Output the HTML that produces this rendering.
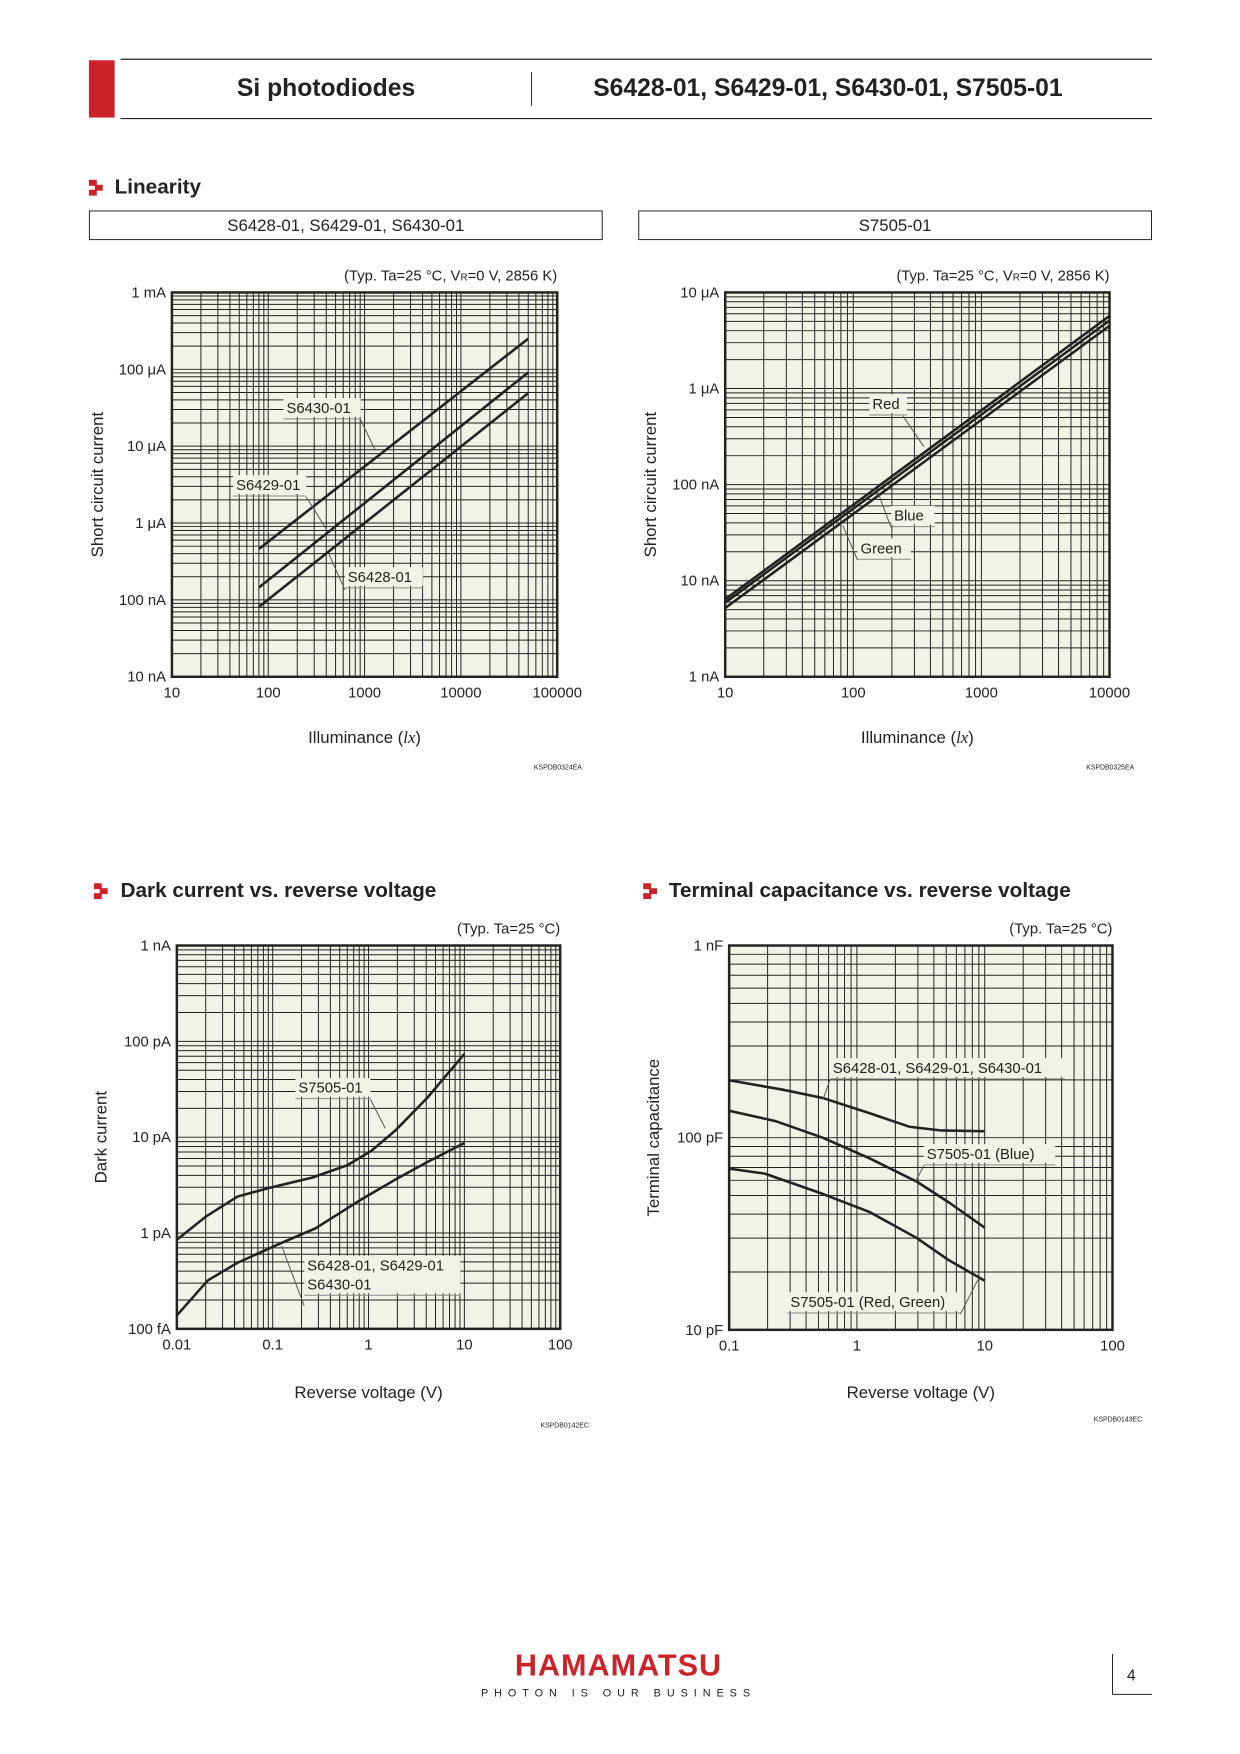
<!DOCTYPE html>
<html><head><meta charset="utf-8"><style>
html,body{margin:0;padding:0;background:#fff}
svg{display:block;font-family:"Liberation Sans",sans-serif}
</style></head><body>
<svg width="1240" height="1754" viewBox="0 0 1240 1754" xmlns="http://www.w3.org/2000/svg">
<g id="page" transform="scale(0.988)">
<g>
<rect x="90" y="61" width="26" height="58" fill="#cc2229"/>
<line x1="122" y1="60" x2="1166" y2="60" stroke="#222" stroke-width="1.2"/>
<line x1="122" y1="120" x2="1166" y2="120" stroke="#222" stroke-width="1.2"/>
<line x1="538" y1="73" x2="538" y2="107" stroke="#222" stroke-width="1"/>
<text x="330" y="97" font-size="25" font-weight="bold" text-anchor="middle" fill="#222">Si photodiodes</text>
<text x="838" y="97" font-size="25" font-weight="bold" text-anchor="middle" fill="#222">S6428-01, S6429-01, S6430-01, S7505-01</text>
</g>
<g>
<rect x="90" y="182" width="8" height="6" fill="#cc2229"/><rect x="96" y="187" width="8" height="6" fill="#cc2229"/><rect x="90" y="192" width="8" height="6" fill="#cc2229"/>
<text x="116" y="196" font-size="21" font-weight="bold" fill="#222">Linearity</text>
</g>
<rect x="90.5" y="213.5" width="519" height="29" fill="none" stroke="#222"/>
<text x="350" y="234" font-size="17" text-anchor="middle" fill="#222">S6428-01, S6429-01, S6430-01</text>
<rect x="646.5" y="213.5" width="519" height="29" fill="none" stroke="#222"/>
<text x="906" y="234" font-size="17" text-anchor="middle" fill="#222">S7505-01</text>
<g id="bottom" transform="translate(0,11)">
<g>
<rect x="95" y="883" width="8" height="6" fill="#cc2229"/><rect x="101" y="888" width="8" height="6" fill="#cc2229"/><rect x="95" y="893" width="8" height="6" fill="#cc2229"/>
<text x="122" y="897" font-size="21" font-weight="bold" fill="#222">Dark current vs. reverse voltage</text>
</g>
<g>
<rect x="651" y="883" width="8" height="6" fill="#cc2229"/><rect x="657" y="888" width="8" height="6" fill="#cc2229"/><rect x="651" y="893" width="8" height="6" fill="#cc2229"/>
<text x="677" y="897" font-size="21" font-weight="bold" fill="#222">Terminal capacitance vs. reverse voltage</text>
</g>
<g>
<text x="626" y="1685" font-size="31" font-weight="bold" text-anchor="middle" fill="#cc2229" letter-spacing="1">HAMAMATSU</text>
<text x="626" y="1706" font-size="11" text-anchor="middle" fill="#222" letter-spacing="6">PHOTON IS OUR BUSINESS</text>
<line x1="1126" y1="1663" x2="1126" y2="1704" stroke="#222"/>
<line x1="1126" y1="1704" x2="1166" y2="1704" stroke="#222"/>
<text x="1145" y="1690" font-size="16" text-anchor="middle" fill="#222">4</text>
</g>
</g>
</g>
</svg>
<script>
// Linearity S6428/29/30 (lx -> A)
const lin1X=[80,50000];
const lin1S6430=[0.46e-6,250e-6];
const lin1S6429=[0.145e-6,91e-6];
const lin1S6428=[0.081e-6,49e-6];
const lin1XTicks=["10","100","1000","10000","100000"];
const lin1YTicks=["10 nA","100 nA","1 μA","10 μA","100 μA","1 mA"];
// Linearity S7505 (lx -> A)
const lin2X=[10,10000];
const lin2Red=[6.4e-9,5.7e-6];
const lin2Blue=[5.9e-9,5.1e-6];
const lin2Green=[5.2e-9,4.5e-6];
const lin2XTicks=["10","100","1000","10000"];
const lin2YTicks=["1 nA","10 nA","100 nA","1 μA","10 μA"];
// Dark current (V -> pA)
const darkS7505V=[0.01,0.02,0.043,0.091,0.26,0.6,1.07,1.9,4.1,10];
const darkS7505I=[0.85,1.48,2.4,2.95,3.8,5.1,7.2,11.7,25.7,74];
const darkS6428V=[0.01,0.021,0.043,0.12,0.28,0.81,1.9,4.1,10];
const darkS6428I=[0.138,0.32,0.49,0.78,1.12,2.19,3.6,5.5,8.7];
const darkXTicks=["0.01","0.1","1","10","100"];
const darkYTicks=["100 fA","1 pA","10 pA","100 pA","1 nA"];
// Capacitance (V -> pF)
const capS6428V=[0.1,0.26,0.54,1.26,2.57,4.57,10];
const capS6428C=[199,178,161,134,114,109,108];
const capBlueV=[0.1,0.23,0.54,1.26,2.95,5.25,10];
const capBlueC=[138,122,100,78,59,46,34];
const capRGV=[0.1,0.19,0.54,1.26,2.95,5.25,10];
const capRGC=[69,65,51,41,30,23,18];
const capXTicks=["0.1","1","10","100"];
const capYTicks=["10 pF","100 pF","1 nF"];

const NS="http://www.w3.org/2000/svg";
let target=document.getElementById('page');
function el(tag,attrs,parent){const e=document.createElementNS(NS,tag);for(const k in attrs)e.setAttribute(k,attrs[k]);(parent||target).appendChild(e);return e;}
const BG="#f3f2e7",INK="#222";

function chart(name,c){
  const g=el('g',{});
  
  
  const xs=v=>c.x+(Math.log10(v)-c.xe0)/(c.xe1-c.xe0)*c.w;
  const ys=v=>c.y+c.h-(Math.log10(v)-c.ye0)/(c.ye1-c.ye0)*c.h;
  const bg=el('rect',{x:c.x,y:c.y,width:c.w,height:c.h,fill:BG},g);
  
  
  const grid=el('g',{stroke:INK,'stroke-width':1},g);
  
  
  for(let e=c.xe0;e<c.xe1;e++)for(let m=1;m<10;m++){const X=xs(m*Math.pow(10,e));el('line',{x1:X,x2:X,y1:c.y,y2:c.y+c.h},grid);}
  for(let e=c.ye0;e<c.ye1;e++)for(let m=1;m<10;m++){const Y=ys(m*Math.pow(10,e));el('line',{x1:c.x,x2:c.x+c.w,y1:Y,y2:Y},grid);}
  const fr=el('rect',{x:c.x,y:c.y,width:c.w,height:c.h,fill:'none',stroke:INK,'stroke-width':2.5},g);
  
  
  c.xt.forEach((t,i)=>{const X=xs(Math.pow(10,c.xe0+i));const tx=el('text',{x:X,y:c.y+c.h+21,'font-size':15,'text-anchor':'middle',fill:INK},g);tx.textContent=t;
    
    });
  c.yt.forEach((t,i)=>{const Y=ys(Math.pow(10,c.ye0+i*c.ystep));const ty=el('text',{x:c.x-6,y:Y+5,'font-size':15,'text-anchor':'end',fill:INK},g);ty.textContent=t;
    
    });
  const xt=el('text',{x:c.x+c.w/2,y:c.xty,'font-size':17,'text-anchor':'middle',fill:INK},g);xt.innerHTML=c.xtitle;
  
  
  const yt=el('text',{x:0,y:0,'font-size':17,'text-anchor':'middle',fill:INK,transform:`translate(${c.ytx},${c.y+c.h/2}) rotate(-90)`},g);yt.textContent=c.ytitle;
  
  
  const nt=el('text',{x:c.x+c.w,y:c.y-12,'font-size':15,'text-anchor':'end',fill:INK},g);nt.innerHTML=c.note;
  
  
  const cd=el('text',{x:c.x+c.w+c.codeDx,y:c.codeY,'font-size':7,'text-anchor':'end',fill:INK},g);cd.textContent=c.code;
  
  
  return {g,xs,ys};
}
function series(ch,name,X,Y,scale){
  const d=X.map((x,i)=>(i?'L':'M')+ch.xs(x).toFixed(1)+','+ch.ys(Y[i]*scale).toFixed(1)).join(' ');
  const p=el('path',{d:d,fill:'none',stroke:INK,'stroke-width':2.6,'stroke-linejoin':'round'},ch.g);
  
  
}
function label(ch,name,lines,tx,ty,ux1,ux2,lx1,ly1,lx2,ly2){
  const g=el('g',{},ch.g);
  
  
  const hgt=lines.length*19;
  el('rect',{x:ux1,y:ty-15,width:ux2-ux1,height:hgt,fill:BG},g);
  lines.forEach((s,i)=>{const t=el('text',{x:ux1+3,y:ty+i*19,'font-size':15,fill:INK},g);t.textContent=s;});
  el('line',{x1:ux1,x2:ux2,y1:ty-15+hgt+2,y2:ty-15+hgt+2,stroke:'#888','stroke-width':1},g);
  el('line',{x1:lx1,y1:ly1,x2:lx2,y2:ly2,stroke:'#555','stroke-width':1},g);
}
const note1='(Typ. Ta=25 °C, V<tspan font-size="10">R</tspan>=0 V, 2856 K)';
const c1=chart('linearity-chart-s6428-s6430',{x:174,y:296,w:390,h:389,xe0:1,xe1:5,ye0:-8,ye1:-3,ystep:1,xt:lin1XTicks,yt:lin1YTicks,xtitle:'Illuminance (<tspan font-style="italic" font-family="Liberation Serif">lx</tspan>)',xty:752,ytitle:'Short circuit current',ytx:104,note:note1,code:'KSPDB0324EA',codeDx:25,codeY:779});
series(c1,'line-s6430-01',lin1X,lin1S6430,1);
series(c1,'line-s6429-01',lin1X,lin1S6429,1);
series(c1,'line-s6428-01',lin1X,lin1S6428,1);
label(c1,'label-s6430-01',['S6430-01'],290,418,287,365,365,425,380,456);
label(c1,'label-s6429-01',['S6429-01'],239,496,236,310,310,503,330,535);
label(c1,'label-s6428-01',['S6428-01'],352,589,349,428,349,597,333,561);
const c2=chart('linearity-chart-s7505',{x:734,y:296,w:389,h:389,xe0:1,xe1:4,ye0:-9,ye1:-5,ystep:1,xt:lin2XTicks,yt:lin2YTicks,xtitle:'Illuminance (<tspan font-style="italic" font-family="Liberation Serif">lx</tspan>)',xty:752,ytitle:'Short circuit current',ytx:664,note:note1,code:'KSPDB0325EA',codeDx:25,codeY:779});
series(c2,'line-red',lin2X,lin2Red,1);
series(c2,'line-blue',lin2X,lin2Blue,1);
series(c2,'line-green',lin2X,lin2Green,1);
label(c2,'label-red',['Red'],883,414,880,918,914,421,935,452);
label(c2,'label-blue',['Blue'],905,527,902,946,902,534,888,497);
label(c2,'label-green',['Green'],871,560,868,922,868,567,853,532);
target=document.getElementById('bottom');
const c3=chart('dark-current-chart',{x:179,y:946,w:388,h:388,xe0:-2,xe1:2,ye0:-13,ye1:-9,ystep:1,xt:darkXTicks,yt:darkYTicks,xtitle:'Reverse voltage (V)',xty:1404,ytitle:'Dark current',ytx:108,note:'(Typ. Ta=25 °C)',code:'KSPDB0142EC',codeDx:29,codeY:1434});
series(c3,'line-dark-s7505-01',darkS7505V,darkS7505I,1e-12);
series(c3,'line-dark-s6428-01',darkS6428V,darkS6428I,1e-12);
label(c3,'label-dark-s7505-01',['S7505-01'],302,1095,299,375,375,1102,390,1131);
label(c3,'label-dark-s6428-01',['S6428-01, S6429-01','S6430-01'],311,1275,308,466,308,1311,285,1250);
const c4=chart('capacitance-chart',{x:738,y:946,w:388,h:389,xe0:-1,xe1:2,ye0:-11,ye1:-9,ystep:1,xt:capXTicks,yt:capYTicks,xtitle:'Reverse voltage (V)',xty:1404,ytitle:'Terminal capacitance',ytx:667,note:'(Typ. Ta=25 °C)',code:'KSPDB0143EC',codeDx:30,codeY:1428});
series(c4,'line-cap-s6428-01',capS6428V,capS6428C,1e-12);
series(c4,'line-cap-blue',capBlueV,capBlueC,1e-12);
series(c4,'line-cap-red-green',capRGV,capRGC,1e-12);
label(c4,'label-cap-s6428',['S6428-01, S6429-01, S6430-01'],843,1075,840,1078,840,1082,833,1102);
label(c4,'label-cap-blue',['S7505-01 (Blue)'],938,1162,935,1068,935,1169,926,1186);
label(c4,'label-cap-red-green',['S7505-01 (Red, Green)'],800,1312,797,972,972,1319,990,1284);
</script>
</body></html>
